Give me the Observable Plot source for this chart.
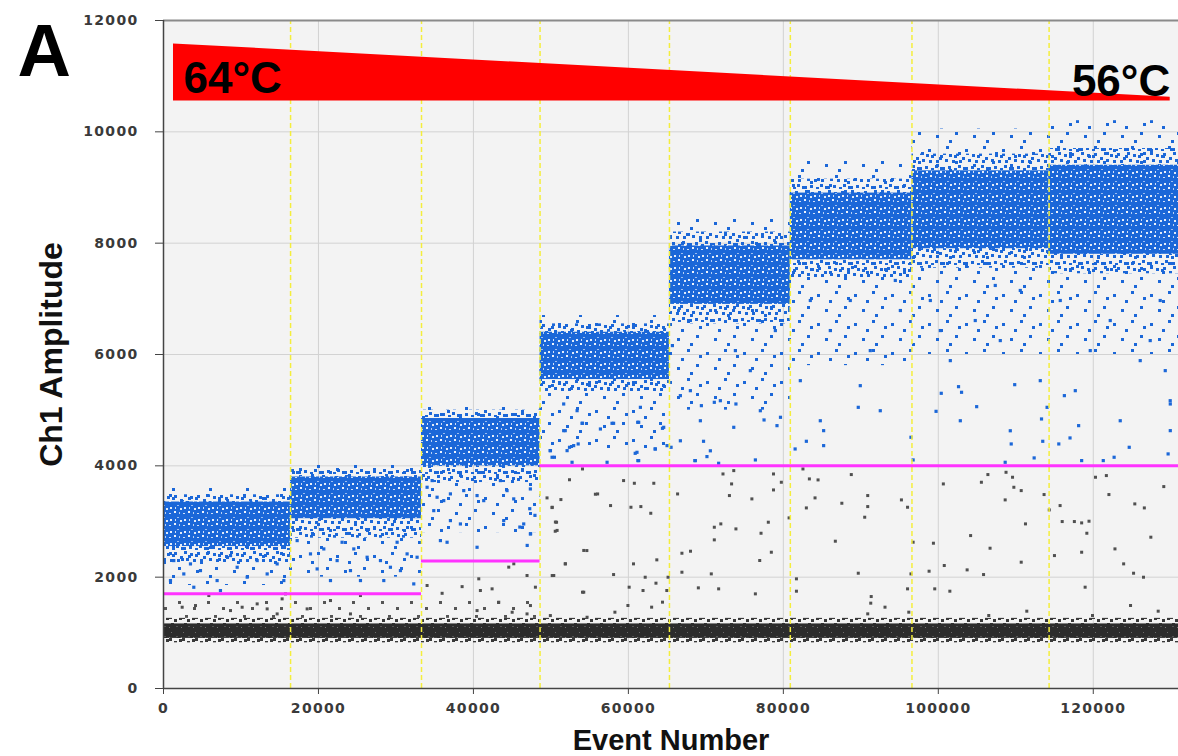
<!DOCTYPE html>
<html>
<head>
<meta charset="utf-8">
<script src="https://cdn.jsdelivr.net/npm/d3@7"></script>
<script src="https://cdn.jsdelivr.net/npm/@observablehq/plot@0.6"></script>
<style>
  html, body { margin: 0; padding: 0; background: #ffffff; }
  #chart { position: relative; width: 1178px; height: 756px; overflow: hidden; }
  #chart svg [aria-label="y-axis tick label"] text,
  #chart svg [aria-label="x-axis tick label"] text { letter-spacing: 1.3px; }
</style>
</head>
<body>
<svg width="0" height="0" style="position:absolute">
  <defs>
    <pattern id="bDense" width="14" height="12" patternUnits="userSpaceOnUse">
      <rect width="14" height="12" fill="#1b67d8"/>
      <rect x="2" y="3" width="2" height="2" fill="#e8effa"/>
      <rect x="9" y="1" width="2" height="1" fill="#9dbdf0"/>
      <rect x="6" y="7" width="2" height="2" fill="#f0f4fb"/>
      <rect x="11" y="8" width="1" height="2" fill="#b7cff3"/>
      <rect x="1" y="9" width="2" height="1" fill="#cfdff7"/>
      <rect x="12" y="4" width="2" height="2" fill="#e0eaf8"/>
      <rect x="7" y="3" width="1" height="2" fill="#d0e0f7"/>
    </pattern>
    <pattern id="bMed" width="23" height="19" patternUnits="userSpaceOnUse">
      <rect x="0" y="0" width="3" height="3" fill="#1b67d8"/>
      <rect x="6" y="2" width="3" height="3" fill="#1b67d8"/>
      <rect x="13" y="1" width="3" height="3" fill="#1b67d8"/>
      <rect x="19" y="5" width="3" height="3" fill="#1b67d8"/>
      <rect x="2" y="7" width="3" height="3" fill="#1b67d8"/>
      <rect x="9" y="8" width="3" height="3" fill="#1b67d8"/>
      <rect x="5" y="14" width="3" height="3" fill="#1b67d8"/>
      <rect x="15" y="13" width="3" height="3" fill="#1b67d8"/>
      <rect x="11" y="3" width="3" height="3" fill="#1b67d8"/>
      <rect x="0" y="15" width="2" height="3" fill="#1b67d8"/>
      <rect x="16" y="8" width="3" height="3" fill="#1b67d8"/>
      <rect x="20" y="15" width="3" height="3" fill="#1b67d8"/>
      <rect x="11" y="16" width="3" height="2" fill="#1b67d8"/>
    </pattern>
    <pattern id="bSparse" width="37" height="29" patternUnits="userSpaceOnUse">
      <rect x="3" y="4" width="3" height="3" fill="#1b67d8"/>
      <rect x="21" y="1" width="3" height="3" fill="#1b67d8"/>
      <rect x="30" y="16" width="3" height="3" fill="#1b67d8"/>
      <rect x="11" y="19" width="3" height="3" fill="#1b67d8"/>
      <rect x="24" y="24" width="3" height="3" fill="#1b67d8"/>
      <rect x="15" y="10" width="3" height="3" fill="#1b67d8"/>
      <rect x="33" y="7" width="3" height="3" fill="#1b67d8"/>
    </pattern>
    <pattern id="gDense" width="12" height="10" patternUnits="userSpaceOnUse">
      <rect width="12" height="10" fill="#2c2c2c"/>
      <rect x="3" y="2" width="1" height="1" fill="#6a6a6a"/>
      <rect x="8" y="6" width="2" height="1" fill="#555555"/>
      <rect x="1" y="7" width="1" height="1" fill="#777777"/>
    </pattern>
    <pattern id="gMed" width="13" height="11" patternUnits="userSpaceOnUse">
      <rect x="0" y="0" width="3" height="3" fill="#3a3a3a"/>
      <rect x="5" y="3" width="3" height="3" fill="#3a3a3a"/>
      <rect x="10" y="1" width="3" height="3" fill="#3a3a3a"/>
      <rect x="2" y="7" width="3" height="3" fill="#3a3a3a"/>
      <rect x="8" y="8" width="3" height="3" fill="#3a3a3a"/>
    </pattern>
    <pattern id="gSparse" width="29" height="23" patternUnits="userSpaceOnUse">
      <rect x="4" y="3" width="3" height="3" fill="#555555"/>
      <rect x="19" y="9" width="3" height="3" fill="#555555"/>
      <rect x="11" y="17" width="3" height="3" fill="#555555"/>
    </pattern>
  </defs>
</svg>
<div id="chart"></div>
<script>
// ---- axis ticks ----
const xTicks = [0, 20000, 40000, 60000, 80000, 100000, 120000];
const yTicks = [0, 2000, 4000, 6000, 8000, 10000, 12000];

// ---- wells (event number ranges) ----
const wellStart = [0, 16400, 33300, 48600, 65300, 80900, 96600, 114300];
const wellEnd   = [16400, 33300, 48600, 65300, 80900, 96600, 114300, 131000];
const wellBoundaries = [16400, 33300, 48600, 65300, 80900, 96600, 114300];

// ---- positive (blue) droplet clusters per well: amplitude ranges ----
const denseLo  = [2550, 3050, 4000, 5550, 6900, 7700, 7900, 7800];
const denseHi  = [3350, 3800, 4850, 6400, 7950, 8900, 9300, 9400];
const midLo    = [2250, 2700, 3700, 5300, 6550, 7350, 7550, 7450];
const midHi    = [3480, 3950, 5000, 6550, 8200, 9150, 9600, 9700];
const sparseLo = [1850, 2000, 2800, 4300, 5000, 5800, 6000, 6000];
const sparseHi = [3600, 4050, 5100, 6700, 8450, 9500, 10050, 10200];

// ---- negative (black) droplet band ----
const negBand = { start: 0, end: 131000, denseLo: 900, denseHi: 1160, midLo: 820, midHi: 1260 };
const negRain = { start: 0, end: 48600, lo: 1260, hi: 1650 };

// ---- thresholds (magenta) ----
const thrStart = [0, 33300, 48600];
const thrEnd   = [33300, 48600, 131000];
const thrValue = [1700, 2290, 4000];

// ---- temperature gradient annotation ----
const tempX    = [1290, 129930];
const tempLow  = [10556, 10556];
const tempHigh = [11580, 10620];
const tempStartLabel = { t: "64°C", x: 2580, y: 10700 };
const tempEndLabel   = { t: "56°C", x: 129930, y: 10646 };

// ---- individually readable outlier droplets ----
const blueOutliers = [
  [1330,2298],[2620,2058],[3910,1819],[4770,2118],[6920,1939],[7350,1759],[9510,2178],[10800,2000],
  [12090,2298],[13380,2058],[14670,2238],[15530,1939],[3480,2238],[8650,2388],[900,1939],
  [17250,2657],[18970,2418],[19830,2148],[21550,1939],[22410,2298],[24130,2118],[25420,1939],
  [26280,2358],[28430,1939],[29290,2178],[30580,2118],[32300,1879],[31440,2418],[32730,2358],
  [20690,2507],[24560,2507],[28000,2298],[23050,2627],[30150,2627],
  [34020,3615],[35310,3436],[37030,3496],[38750,3555],[40470,3466],[44340,3555],[45200,3406],
  [47350,3585],[43480,3735],[34670,3735],[34880,3195],[36170,3375],[37030,3016],[38320,2956],
  [40470,2537],[41330,3375],[43910,3016],[46490,2956],[47350,2777],[35740,2657],[36600,2627],
  [45990,2900],[47380,2780],[46940,2570],[47940,3110],[47270,3230],
  [51650,5111],[53380,4991],[56390,4662],[57890,4764],[54020,4764],[51650,4632],[52090,4273],
  [52940,4363],[49940,4273],[50150,4154],[52730,4064],[57250,4064],[61110,4243],[61330,4094],
  [63480,4303],[64560,4692],[64990,4363],[61200,4782],[61550,5051],
  [49900,4273],[52400,4333],[53520,4393],[50450,4154],[51850,4632],[54080,4764],[58090,4764],
  [61330,4782],[64400,4674],[61220,4094],[60880,4225],[63450,4303],
  [66710,5261],[68640,4094],[65510,4333],[68580,4094],[69700,4441],[70140,4166],[71650,4046],
  [73600,4692],[73880,5111],[71090,5141],[69420,5081],[76390,4106],[77510,4824],[79180,4722],
  [79630,4872],[81520,4303],[82970,4441],[85200,4632],[85200,4363],[89670,5051],[96470,4513],
  [96750,4106],[99710,4979],[100380,5303],[104950,5063],[108630,4064],[109410,4393],[112370,4142],
  [113320,4842],[113480,4441],[114040,5051],[115550,4393],[117000,4501],[118110,4722],[118500,4094],
  [121290,4094],[122690,4154],[124640,4333],[129660,4214],[129940,4632],[129940,5111],[116270,5261],
  [109860,5458],[103000,5321],[102610,5422],
  [65680,6160],[68000,5350],[69290,4810],[71870,5170],[75740,5710],[77030,4990],[70580,4270],
  [66710,4450],[73810,6070],[78970,6430],
  [82190,5530],[86060,6430],[88640,6970],[91220,6070],[95100,6790],[84770,4810],[92510,4990],
  [83480,6970],[89930,5440],[94450,7330],
  [98970,6970],[101550,5890],[104770,6610],[108000,6250],[110580,7150],[113160,5530],[102840,4810],
  [109290,4630],[100260,6430],[107350,7240],
  [115740,6970],[119610,6070],[122190,6610],[126060,5890],[128640,6970],[129930,5170],[117680,5350],
  [123480,4810],[127350,6250],[129290,5710]
];

const grayOutliers = [
  [54080,3944],[52400,3750],[56030,3495],[49500,3424],[51290,3394],[50170,3256],[57700,3286],
  [59380,3735],[60770,3687],[63280,3687],[60330,3256],[61610,3268],[62890,3148],[66350,3495],
  [50730,2987],[50560,2825],[54640,2478],[51850,2239],[50170,2029],[58090,2047],[60660,2239],
  [63670,2311],[66910,2430],[68020,2466],[66910,2089],[70700,2059],[62170,1999],[65120,1999],
  [60100,1820],[54080,1730],[61890,1760],[63560,1892],[64960,1760],[64400,1551],[59940,1491],
  [63000,1461],[58260,1371],[69030,1808],[71650,1790],[72210,3854],[73600,3914],[73320,3675],
  [73040,3466],[75940,3406],[78730,3854],[79740,3705],[78730,3567],[71090,2897],[71930,2957],
  [73880,2867],[71090,2670],[77120,2789],[78060,2987],[78450,2448],[76950,2299],[76390,1700],
  [80740,3065],[81690,1970],[81690,1748],[82530,3944],[83360,3765],[84480,3747],[84090,3424],
  [82970,3244],[87550,3328],[86710,2646],[88770,3843],[90890,3466],[90890,3268],[90500,3077],
  [89670,2071],[91340,1652],[91280,1533],[93120,1461],[90890,1341],[95240,3388],[96030,3256],
  [96750,2628],[96470,2059],[96030,1790],[96190,1371],[99370,2610],[98810,2107],[100770,2209],
  [99540,1790],[101490,1748],[100650,3675],[105560,3705],[106400,3843],[108740,3884],[109580,3795],
  [109750,3615],[110700,3555],[108630,3388],[111250,2957],[104170,2747],[106680,2520],[103720,2131],
  [105840,2047],[110700,2269],[111420,1389],[106510,1311],[113650,3484],[114320,3208],[115720,3286],
  [115990,2999],[117560,2999],[118500,2975],[119450,3005],[119170,2789],[118500,2448],[114990,2388],
  [118950,1820],[120290,3795],[121690,3825],[122020,3484],[125360,3316],[126590,3244],[127430,2718],
  [129100,3627],[122800,2508],[123920,2239],[125200,2071],[126480,1999],[124810,1491],[128380,1389],
  [119900,1311],
  [2410,1460],[4130,1490],[5850,1670],[8645,1400],[10150,1460],[12090,1520],[13380,1430],
  [14670,1340],[15310,1610],[15740,1700],[18540,1430],[21550,1580],[25420,1670],[24130,1340],
  [34020,1850],[35960,1710],[38540,1830],[40690,1970],[40900,1760],[42410,1790],[43270,1550],
  [44560,2180],[45210,2240],[46920,2030],[48000,1820],[47360,1490],[50150,3250],[50580,2990],
  [50800,2840],[51870,2240],[50370,2030],[54240,2480],[54240,1730],[55740,3490],[40470,1400],
  [45000,1370],[46920,1340],[49930,1310],[54670,1280]
];

// ---- build tables for the marks ----
const wells = wellStart.map((s, i) => ({
  x1: s, x2: wellEnd[i],
  dLo: denseLo[i], dHi: denseHi[i],
  mLo: midLo[i], mHi: midHi[i],
  sLo: sparseLo[i], sHi: sparseHi[i]
}));
const thresholds = thrStart.map((s, i) => ({ x1: s, x2: thrEnd[i], y: thrValue[i] }));
const wedge = tempX.map((x, i) => ({ x, lo: tempLow[i], hi: tempHigh[i] }));
const blue = blueOutliers.map(([x, y]) => ({ x, y }));
const gray = grayOutliers.map(([x, y]) => ({ x, y }));

const fmt = d => String(d);
const titleFont = "'Liberation Sans', Arial, sans-serif";

const chart = Plot.plot({
  width: 1178,
  height: 756,
  marginTop: 20,
  marginLeft: 163,
  marginRight: 0,
  marginBottom: 68,
  x: { domain: [0, 131000] },
  y: { domain: [0, 12000] },
  style: { background: "transparent", fontFamily: "'DejaVu Sans', sans-serif", color: "#3a3a3a", overflow: "visible" },
  marks: [
    Plot.frame({ fill: "#f3f3f3", stroke: null }),
    Plot.gridX({ ticks: xTicks, stroke: "#d2d2d2", strokeOpacity: 1, strokeWidth: 1 }),
    Plot.gridY({ ticks: yTicks, stroke: "#d2d2d2", strokeOpacity: 1, strokeWidth: 1 }),

    // negative droplets
    Plot.rect([negRain], { x1: "start", x2: "end", y1: "lo", y2: "hi", fill: "url(#gSparse)" }),
    Plot.rect([negBand], { x1: "start", x2: "end", y1: "midLo", y2: "midHi", fill: "url(#gMed)" }),
    Plot.rect([negBand], { x1: "start", x2: "end", y1: "denseLo", y2: "denseHi", fill: "url(#gDense)" }),

    // positive droplet clusters
    Plot.rect(wells, { x1: "x1", x2: "x2", y1: "sLo", y2: "sHi", fill: "url(#bSparse)" }),
    Plot.rect(wells, { x1: "x1", x2: "x2", y1: "mLo", y2: "mHi", fill: "url(#bMed)" }),
    Plot.rect(wells, { x1: "x1", x2: "x2", y1: "dLo", y2: "dHi", fill: "url(#bDense)" }),

    // outliers
    Plot.dot(gray, { x: "x", y: "y", symbol: "square", r: 1.7, fill: "#505050", stroke: null }),
    Plot.dot(blue, { x: "x", y: "y", symbol: "square", r: 1.8, fill: "#1b67d8", stroke: null }),

    // well boundaries
    Plot.ruleX(wellBoundaries, { y1: 0, y2: 12000, stroke: "#f4ee3c", strokeWidth: 1.5, strokeDasharray: "5,3" }),

    // thresholds
    Plot.ruleY(thresholds, { y: "y", x1: "x1", x2: "x2", stroke: "#ff33ff", strokeWidth: 3 }),

    // temperature gradient wedge + labels
    Plot.areaY(wedge, { x: "x", y1: "lo", y2: "hi", fill: "#ff0000", curve: "linear" }),
    Plot.text([tempStartLabel], { x: "x", y: "y", text: "t", textAnchor: "start", lineAnchor: "bottom",
      fontSize: 44, fontWeight: "bold", fontFamily: titleFont, fill: "#000" }),
    Plot.text([tempEndLabel], { x: "x", y: "y", text: "t", textAnchor: "end", lineAnchor: "bottom",
      fontSize: 44, fontWeight: "bold", fontFamily: titleFont, fill: "#000" }),

    // frame lines
    Plot.ruleY([12000], { stroke: "#8a8a8a", strokeWidth: 2 }),
    Plot.ruleX([0], { stroke: "#444", strokeWidth: 1.5 }),
    Plot.ruleY([0], { stroke: "#444", strokeWidth: 1.5 }),

    // axes
    Plot.axisY({ ticks: yTicks, tickFormat: fmt, tickSize: 8, tickPadding: 17, fontSize: 14,
      fontWeight: "bold", label: null, stroke: "#444" }),
    Plot.axisX({ ticks: xTicks, tickFormat: fmt, tickSize: 6, tickPadding: 9, fontSize: 14,
      fontWeight: "bold", label: null, stroke: "#444" }),

    // axis titles and panel letter
    Plot.text(["Ch1 Amplitude"], { frameAnchor: "left", dx: -112, rotate: -90, text: d => d,
      fontSize: 32, fontWeight: "bold", fontFamily: titleFont, fill: "#111",
      textAnchor: "middle", lineAnchor: "middle" }),
    Plot.text(["Event Number"], { frameAnchor: "bottom", dy: 52, text: d => d,
      fontSize: 29, fontWeight: "bold", fontFamily: titleFont, fill: "#111",
      textAnchor: "middle", lineAnchor: "middle" }),
    Plot.text(["A"], { frameAnchor: "top-left", dx: -146, dy: 55, text: d => d,
      fontSize: 74, fontWeight: "bold", fontFamily: titleFont, fill: "#000",
      textAnchor: "start", lineAnchor: "bottom" })
  ]
});

document.getElementById("chart").appendChild(chart);
</script>
</body>
</html>
